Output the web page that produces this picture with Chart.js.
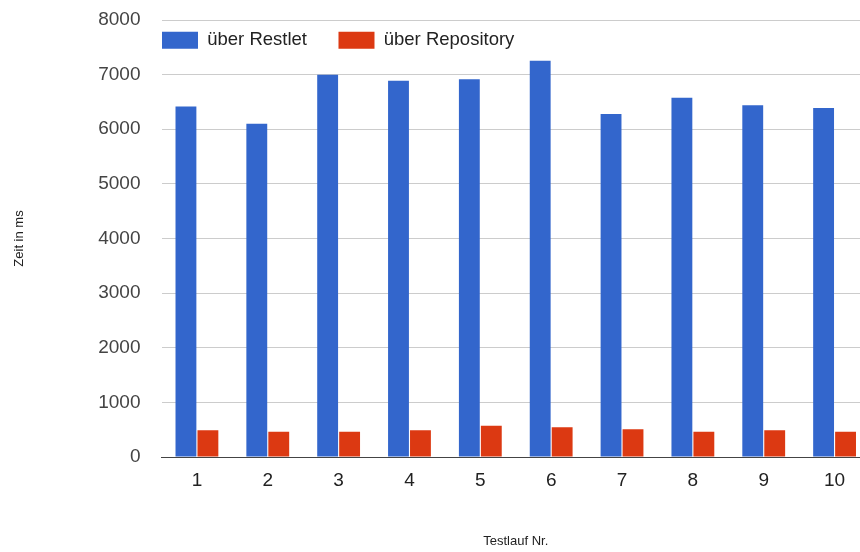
<!DOCTYPE html>
<html>
<head>
<meta charset="utf-8">
<script src="https://cdn.jsdelivr.net/npm/chart.js@4/dist/chart.umd.min.js"></script>
<style>
  html, body { margin: 0; padding: 0; background: #fff; overflow: hidden; }
  #wrap { width: 870px; height: 552px; }
</style>
</head>
<body>
<div id="wrap"><canvas id="myChart" width="870" height="552"></canvas></div>
<script>
// Testlauf Nr.
var labels = ['1', '2', '3', '4', '5', '6', '7', '8', '9', '10'];
// Zeit in ms
var restlet = [6415, 6100, 7000, 6890, 6915, 7255, 6280, 6575, 6440, 6390];
var repository = [490, 460, 460, 490, 570, 545, 510, 460, 490, 460];

var fontFamily = '"Liberation Sans", Arial, Helvetica, sans-serif';

// legend sits inside the plot, top left, and takes no room of its own
var legendInPlot = {
  id: 'legendInPlot',
  beforeUpdate: function(chart) {
    var lg = chart.legend;
    if (!lg || lg._patched) return;
    var fit = lg.fit;
    lg.fit = function() {
      fit.call(this);
      this.height = 0;
    };
    lg._patched = true;
  },
  afterLayout: function(chart) {
    var lg = chart.legend;
    if (!lg) return;
    var pad = lg.options.labels.padding;
    lg.left = chart.chartArea.left + 0.5 - pad;
    lg.right = chart.chartArea.right;
    lg.top = chart.chartArea.top + 11 - pad;
    lg.height = 100;
    lg.bottom = lg.top + lg.height;
  }
};

const config = {
  type: 'bar',
  data: {
    labels: labels,
    datasets: [{
      label: 'über Restlet',
      backgroundColor: '#3366cc',
      data: restlet
    }, {
      label: 'über Repository',
      backgroundColor: '#dc3912',
      data: repository
    }]
  },
  options: {
    responsive: false,
    animation: false,
    categoryPercentage: 0.62,
    barPercentage: 0.95,
    layout: { padding: 0 },
    plugins: {
      tooltip: { enabled: false },
      legend: {
        position: 'top',
        align: 'start',
        labels: {
          boxWidth: 36,
          boxHeight: 17,
          padding: 31.5,
          color: '#222',
          font: { family: fontFamily, size: 18.5 }
        }
      }
    },
    scales: {
      x: {
        grid: { display: false, drawTicks: false },
        border: { display: true, color: '#444', width: 1 },
        ticks: {
          color: '#222',
          padding: 12,
          font: { family: fontFamily, size: 19 }
        },
        title: {
          display: true,
          text: 'Testlauf Nr.',
          color: '#222',
          font: { family: fontFamily, size: 13 },
          padding: { top: 0, bottom: 3 }
        },
        afterFit: function(scale) { scale.height = 95; }
      },
      y: {
        min: 0,
        max: 8000,
        grid: {
          drawTicks: false,
          color: function(ctx) { return ctx.tick && ctx.tick.value === 0 ? '#444' : '#cccccc'; }
        },
        border: { display: false },
        ticks: {
          stepSize: 1000,
          color: '#444',
          padding: 21,
          font: { family: fontFamily, size: 19 },
          callback: function(v) { return String(v); }
        },
        title: {
          display: true,
          text: 'Zeit in ms',
          color: '#222',
          font: { family: fontFamily, size: 13 },
          padding: { top: 12, bottom: 0 }
        },
        afterFit: function(scale) {
          scale.width = 161.5;
          scale.paddingTop = 20;
          scale.paddingBottom = 0;
        }
      }
    }
  },
  plugins: [legendInPlot]
};

const myChart = new Chart(document.getElementById('myChart'), config);
</script>
</body>
</html>
